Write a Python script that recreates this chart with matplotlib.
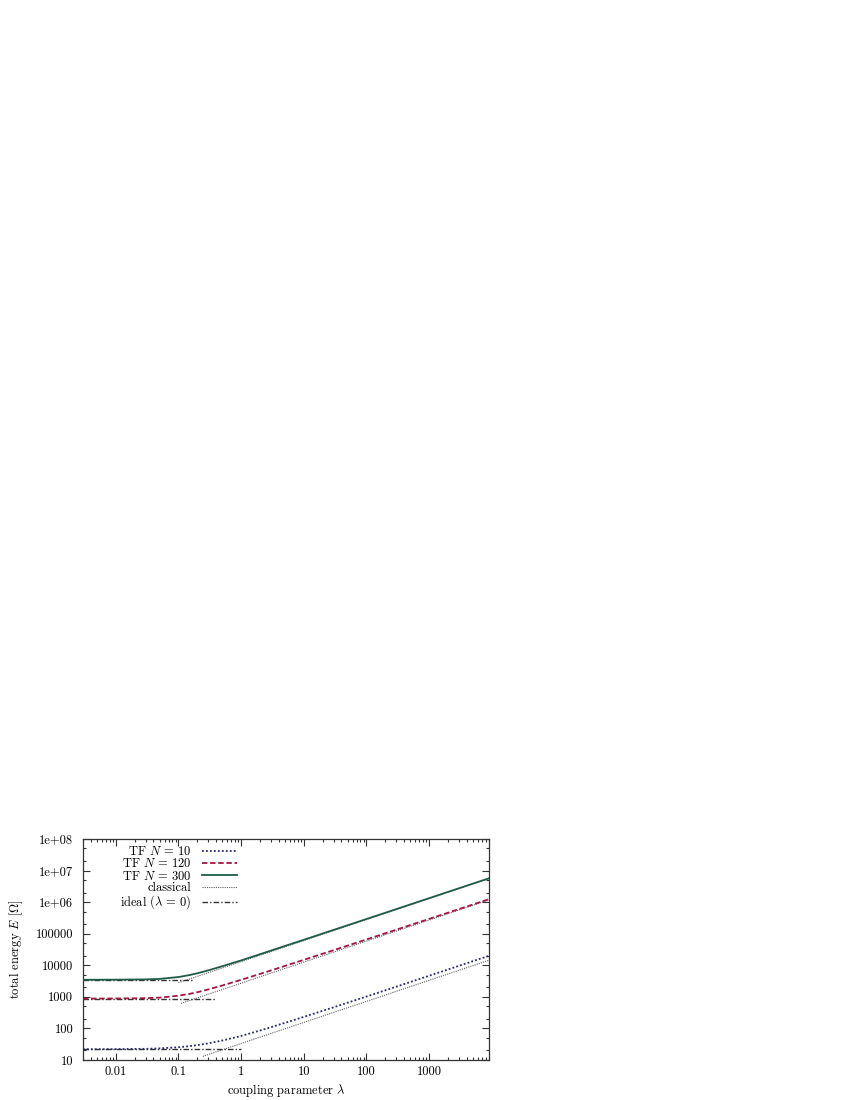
import matplotlib
matplotlib.use("Agg")
import matplotlib.pyplot as plt
from matplotlib.ticker import FixedLocator, FixedFormatter, LogLocator, NullFormatter

plt.rcParams['font.family'] = 'serif'
plt.rcParams['font.serif'] = ['cmr10', 'DejaVu Serif']
plt.rcParams['mathtext.fontset'] = 'cm'
plt.rcParams['axes.unicode_minus'] = False
plt.rcParams['font.size'] = 9

lam = [0.003, 0.01, 0.03, 0.05, 0.1, 0.15, 0.2, 0.3, 0.5, 1, 2, 3, 10, 30, 100, 300, 1000, 3000, 9000]

# Thomas-Fermi total energies
tf_n10 = [21.8, 22.05, 22.5, 23.25, 25.3, 27.4, 29.5, 33.6, 41.2, 57.5, 85.4, 108.9, 231, 467,
          1021, 2097, 4641, 9603, 19900]
tf_n120 = [877, 885, 905, 943, 1083, 1238, 1397, 1711, 2277, 3451, 5303, 6847, 14800, 30050,
           65560, 133900, 293700, 601700, 1.236e6]
tf_n300 = [3465, 3490, 3560, 3690, 4230, 4880, 5550, 6900, 9300, 14200, 22320, 29100, 64000,
           131800, 291000, 600200, 1.329e6, 2.744e6, 5.67e6]

# classical asymptotes (straight lines in log-log), start and end points
cl_lam_n10 = [0.245, 9000]
cl_e_n10 = [13.0, 14400]
cl_lam_n120 = [0.11, 9000]
cl_e_n120 = [620, 1.17e6]
cl_lam_n300 = [0.1, 9000]
cl_e_n300 = [2800, 5.63e6]

# ideal (lambda = 0) levels and how far they are drawn
ideal_lam_n10 = [0.003, 1.0]
ideal_e_n10 = [21.8, 21.8]
ideal_lam_n120 = [0.003, 0.4]
ideal_e_n120 = [877, 877]
ideal_lam_n300 = [0.003, 0.18]
ideal_e_n300 = [3464, 3464]

xtick_vals = [0.01, 0.1, 1, 10, 100, 1000]
xtick_labels = ['0.01', '0.1', '1', '10', '100', '1000']
ytick_vals = [10, 100, 1000, 10000, 100000, 1e6, 1e7, 1e8]
ytick_labels = ['10', '100', '1000', '10000', '100000', '1e+06', '1e+07', '1e+08']

fig = plt.figure(figsize=(8.5, 11), dpi=100)
ax = fig.add_axes([0.0976, 0.0364, 0.4776, 0.2009])

blue = '#26286b'
red = '#a3163f'
green = '#1d5c48'
grey = '#606060'

ax.plot(lam, tf_n10, color=blue, lw=1.3, ls=(0, (1, 1.2)), label=r'TF $N\,=\,10$', zorder=3)
ax.plot(lam, tf_n120, color=red, lw=1.3, ls=(0, (3, 1.5)), label=r'TF $N\,=\,120$', zorder=3)
ax.plot(lam, tf_n300, color=green, lw=1.3, ls='-', label=r'TF $N\,=\,300$', zorder=3)

ax.plot(cl_lam_n10, cl_e_n10, color=grey, lw=0.8, ls=(0, (1, 1)), label='classical', zorder=2)
ax.plot(cl_lam_n120, cl_e_n120, color=grey, lw=0.8, ls=(0, (1, 1)), zorder=2)
ax.plot(cl_lam_n300, cl_e_n300, color=grey, lw=0.8, ls=(0, (1, 1)), zorder=2)

dashdot = (0, (4, 1.5, 1, 1.5))
ax.plot(ideal_lam_n10, ideal_e_n10, color='#333333', lw=1.0, ls=dashdot,
        label=r'ideal ($\lambda\,=\,0$)', zorder=2)
ax.plot(ideal_lam_n120, ideal_e_n120, color='#333333', lw=1.0, ls=dashdot, zorder=2)
ax.plot(ideal_lam_n300, ideal_e_n300, color='#333333', lw=1.0, ls=dashdot, zorder=2)

ax.set_xscale('log')
ax.set_yscale('log')
ax.set_xlim(0.003, 9000)
ax.set_ylim(10, 1e8)

ax.xaxis.set_major_locator(FixedLocator(xtick_vals))
ax.xaxis.set_major_formatter(FixedFormatter(xtick_labels))
ax.yaxis.set_major_locator(FixedLocator(ytick_vals))
ax.yaxis.set_major_formatter(FixedFormatter(ytick_labels))
ax.xaxis.set_minor_locator(LogLocator(base=10, subs=range(2, 10), numticks=50))
ax.yaxis.set_minor_locator(LogLocator(base=10, subs=(2, 5), numticks=50))
ax.xaxis.set_minor_formatter(NullFormatter())
ax.yaxis.set_minor_formatter(NullFormatter())

ax.tick_params(which='both', direction='in', top=True, right=True, width=0.8, colors='#333333',
               labelcolor='black')
ax.tick_params(which='major', length=5)
ax.tick_params(axis='x', which='major', pad=4)
ax.tick_params(axis='y', which='major', pad=7)
ax.tick_params(which='minor', length=2.5)
for sp in ax.spines.values():
    sp.set_linewidth(0.9)
    sp.set_color('#333333')

ax.set_xlabel(r'coupling parameter $\lambda$', labelpad=3)
ax.set_ylabel(r'total energy $E$ [$\Omega$]', labelpad=8)

leg = ax.legend(loc='upper right', bbox_to_anchor=(0.402, 1.012), frameon=False,
                markerfirst=False, handlelength=2.8, handletextpad=0.9,
                labelspacing=-0.05, borderpad=0.2, fontsize=9)

fig.savefig('out.png', dpi=100)
